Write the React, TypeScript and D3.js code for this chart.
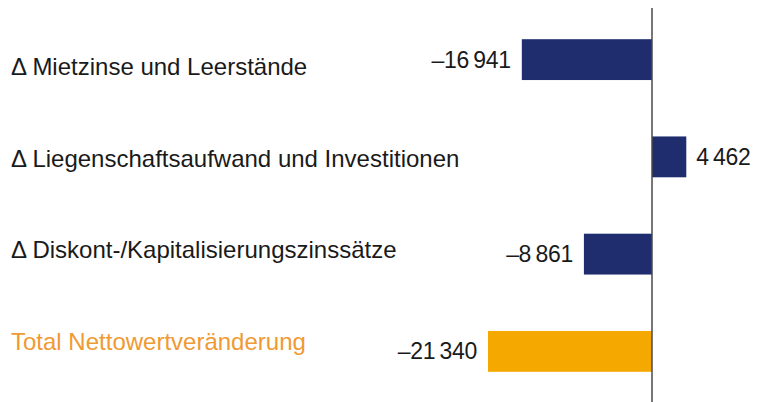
import React, { useEffect, useRef } from "react";
import { select, scaleBand, scaleLinear, scalePoint } from "d3";

const categories = [
  "Δ Mietzinse und Leerstände",
  "Δ Liegenschaftsaufwand und Investitionen",
  "Δ Diskont-/Kapitalisierungszinssätze",
  "Total Nettowertveränderung",
];
const values = [-16941, 4462, -8861, -21340];
const valueLabels = ["–16\u2009941", "4\u2009462", "–8\u2009861", "–21\u2009340"];
const isTotal = [false, false, false, true];

const W = 757;
const H = 402;
const NAVY = "#1f2c6e";
const ORANGE = "#f5a800";
const ORANGE_TEXT = "#ef9a33";

export default function App() {
  const svgRef = useRef<SVGSVGElement>(null);

  useEffect(() => {
    document.body.style.margin = "0";
    const svg = select(svgRef.current);
    svg.selectAll("*").remove();

    // zero line sits at x=652, ~0.00769 px per unit
    const xScale = scaleLinear().domain([-21340, 0]).range([488, 652]);
    const yScale = scaleBand<string>()
      .domain(categories)
      .range([11, 400])
      .paddingInner(0.58)
      .paddingOuter(0.29);
    const labelY = scalePoint<string>().domain(categories).range([75, 350]);

    const rows = categories.map((c, i) => ({
      cat: c,
      value: values[i],
      label: valueLabels[i],
      total: isTotal[i],
    }));

    svg
      .selectAll(".bar")
      .data(rows)
      .join("rect")
      .attr("class", "bar")
      .attr("x", (d) => Math.min(xScale(d.value), xScale(0)))
      .attr("width", (d) => Math.abs(xScale(d.value) - xScale(0)))
      .attr("y", (d) => yScale(d.cat)!)
      .attr("height", yScale.bandwidth())
      .attr("fill", (d) => (d.total ? ORANGE : NAVY));

    svg
      .append("line")
      .attr("x1", xScale(0))
      .attr("x2", xScale(0))
      .attr("y1", 8)
      .attr("y2", H)
      .attr("stroke", "#4a4a4a")
      .attr("stroke-width", 1.5);

    svg
      .selectAll(".cat")
      .data(rows)
      .join("text")
      .attr("class", "cat")
      .attr("x", 11)
      .attr("y", (d) => labelY(d.cat)!)
      .attr("font-size", 24)
      .attr("fill", (d) => (d.total ? ORANGE_TEXT : "#1a1a1a"))
      .text((d) => d.cat);

    svg
      .selectAll(".val")
      .data(rows)
      .join("text")
      .attr("class", "val")
      .attr("x", (d) => (d.value < 0 ? xScale(d.value) - 11 : xScale(d.value) + 10))
      .attr("y", (d) => yScale(d.cat)! + yScale.bandwidth() / 2)
      .attr("dy", "0.35em")
      .attr("text-anchor", (d) => (d.value < 0 ? "end" : "start"))
      .attr("font-size", 23)
      .attr("letter-spacing", -0.3)
      .attr("fill", "#1a1a1a")
      .text((d) => d.label);
  }, []);

  return (
    <svg
      ref={svgRef}
      width={W}
      height={H}
      style={{ display: "block", fontFamily: "'Liberation Sans', Arial, sans-serif", background: "#fff" }}
    />
  );
}
